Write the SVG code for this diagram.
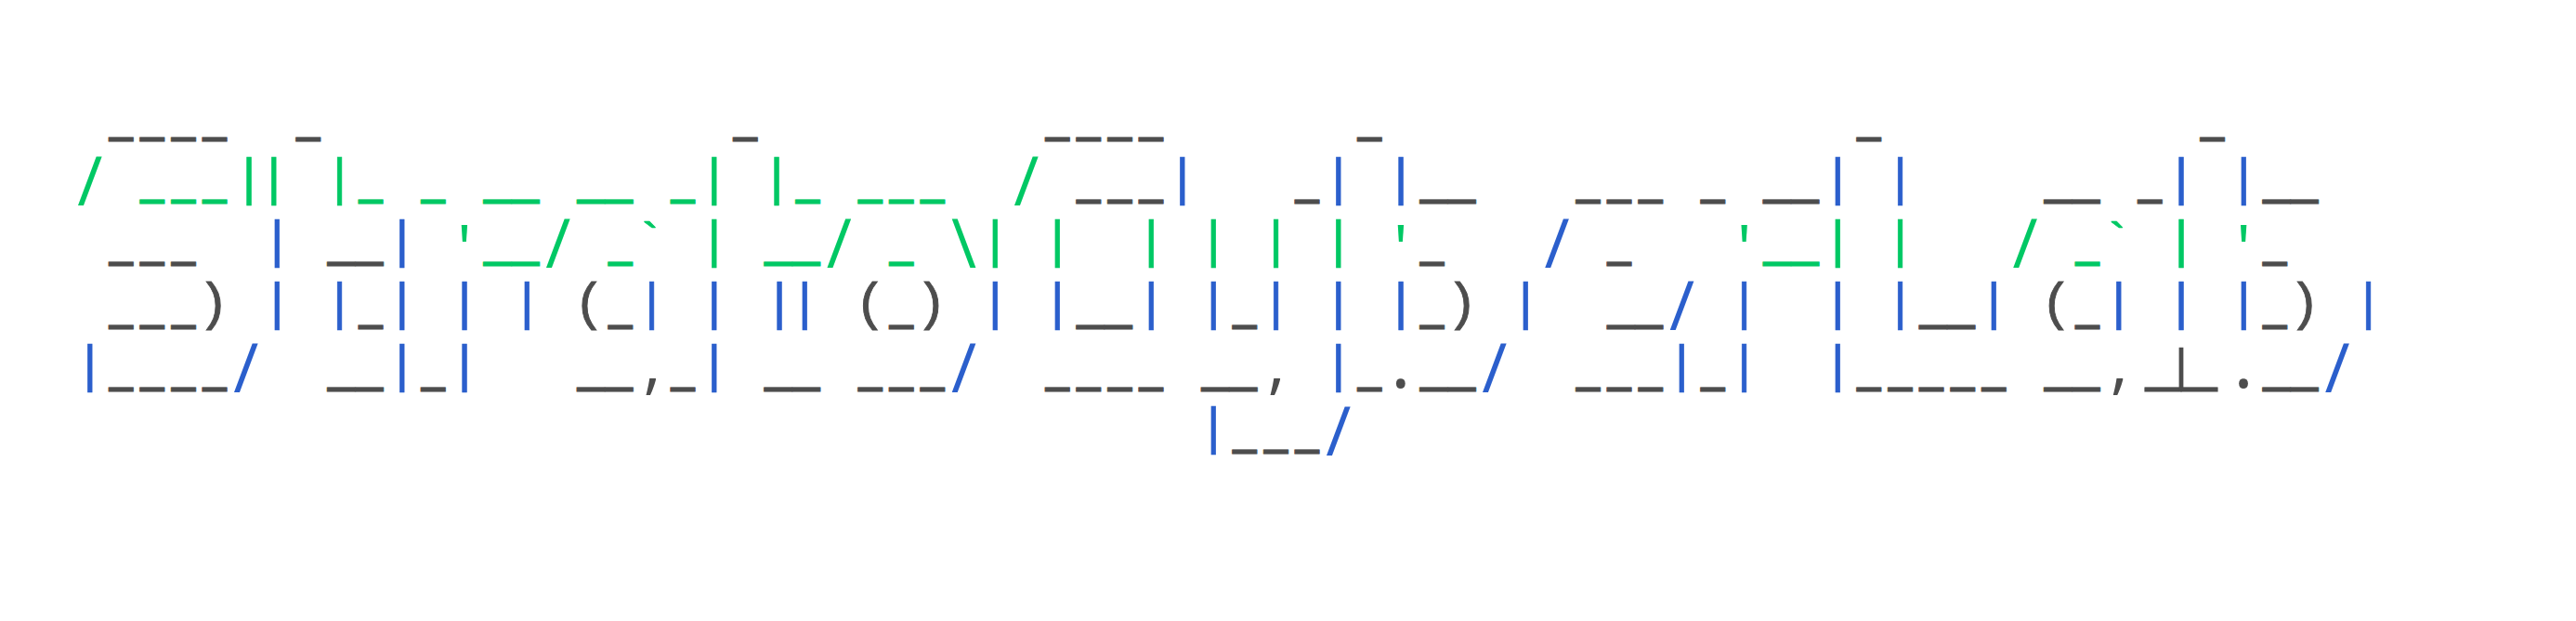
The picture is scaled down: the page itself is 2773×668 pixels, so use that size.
<svg xmlns="http://www.w3.org/2000/svg" width="2773" height="668" viewBox="0 0 2773 668">
<style>
text{font-family:"Liberation Mono",monospace;font-size:56px;stroke-width:0}
.k{fill:#4d4d4d;stroke:#4d4d4d}
.g{fill:#00c864;stroke:#00c864}
.l{fill:#2b5fcc;stroke:#2b5fcc}
.u{font-family:"DejaVu Sans Mono",monospace;font-weight:700;font-size:44px;stroke-width:.8px}
.b{font-family:"Liberation Mono",monospace;font-size:56px;stroke-width:.7px}
.p{stroke-width:.9px}
.a{stroke-width:.6px}
.s{font-family:"Open Sans",sans-serif;font-size:74px}
.q{font-size:58px}
.c{font-family:"Open Sans",sans-serif;font-size:74px}
.d{font-family:"Open Sans",sans-serif;font-size:84px}
.t{font-size:50px;stroke-width:.7px}
</style>
<g id="ascii-art">
<text id="row1" xml:space="preserve"> <tspan class="u k" y="141" x="117 150.6 184.2 217.8">____</tspan>  <tspan class="u k" y="141" x="318.6">_</tspan>             <tspan class="u k" y="141" x="789">_</tspan>         <tspan class="u k" y="141" x="1125 1158.6 1192.2 1225.8">____</tspan>      <tspan class="u k" y="141" x="1461">_</tspan>               <tspan class="u k" y="141" x="1998.6">_</tspan>          <tspan class="u k" y="141" x="2368.2">_</tspan></text>
<text id="row2" xml:space="preserve"><tspan class="s g" y="220.7" x="83.3">/</tspan> <tspan class="u g" y="208.2" x="150.6 184.2 217.8">___</tspan><tspan class="b g" y="208.6" x="251.2 278">||</tspan> <tspan class="b g" y="208.6" x="348.8">|</tspan><tspan class="u g" y="208.2" x="385.8">_</tspan> <tspan class="u g" y="208.2" x="453">_</tspan> <tspan class="u g" y="208.2" x="520.2" textLength="60.4" lengthAdjust="spacingAndGlyphs">__</tspan> <tspan class="u g" y="208.2" x="621" textLength="60.4" lengthAdjust="spacingAndGlyphs">__</tspan> <tspan class="u g" y="208.2" x="721.8">_</tspan><tspan class="b g" y="208.6" x="752">|</tspan> <tspan class="b g" y="208.6" x="819.2">|</tspan><tspan class="u g" y="208.2" x="856.2">_</tspan> <tspan class="u g" y="208.2" x="923.4 957 990.6">___</tspan>  <tspan class="s g" y="220.7" x="1091.3">/</tspan> <tspan class="u k" y="208.2" x="1158.6 1192.2 1225.8">___</tspan><tspan class="b l" y="208.6" x="1256">|</tspan>   <tspan class="u k" y="208.2" x="1393.8">_</tspan><tspan class="b l" y="208.6" x="1424">|</tspan> <tspan class="b l" y="208.6" x="1491.2">|</tspan><tspan class="u k" y="208.2" x="1528.2" textLength="60.4" lengthAdjust="spacingAndGlyphs">__</tspan>   <tspan class="u k" y="208.2" x="1696.2 1729.8 1763.4">___</tspan> <tspan class="u k" y="208.2" x="1830.6">_</tspan> <tspan class="u k" y="208.2" x="1897.8" textLength="60.4" lengthAdjust="spacingAndGlyphs">__</tspan><tspan class="b l" y="208.6" x="1961.6">|</tspan> <tspan class="b l" y="208.6" x="2028.8">|</tspan>    <tspan class="u k" y="208.2" x="2200.2" textLength="60.4" lengthAdjust="spacingAndGlyphs">__</tspan> <tspan class="u k" y="208.2" x="2301">_</tspan><tspan class="b l" y="208.6" x="2331.2">|</tspan> <tspan class="b l" y="208.6" x="2398.4">|</tspan><tspan class="u k" y="208.2" x="2435.4" textLength="60.4" lengthAdjust="spacingAndGlyphs">__</tspan></text>
<text id="row3" xml:space="preserve"> <tspan class="u k" y="275.4" x="117 150.6 184.2">___</tspan>  <tspan class="b l" y="275.8" x="281.6">|</tspan> <tspan class="u k" y="275.4" x="352.2" textLength="60.4" lengthAdjust="spacingAndGlyphs">__</tspan><tspan class="b l" y="275.8" x="416">|</tspan> <tspan class="q g" y="284.4" x="482.6">'</tspan><tspan class="u g" y="275.4" x="520.2" textLength="60.4" lengthAdjust="spacingAndGlyphs">__</tspan><tspan class="s g" y="287.9" x="587.3">/</tspan> <tspan class="u g" y="275.4" x="654.6">_</tspan><tspan class="b a g" y="278.2" x="682.8">`</tspan> <tspan class="b g" y="275.8" x="752">|</tspan> <tspan class="u g" y="275.4" x="822.6" textLength="60.4" lengthAdjust="spacingAndGlyphs">__</tspan><tspan class="s g" y="287.9" x="889.7">/</tspan> <tspan class="u g" y="275.4" x="957">_</tspan> <tspan class="s g" y="287.9" x="1024.1">\</tspan><tspan class="b g" y="275.8" x="1054.4">|</tspan> <tspan class="b g" y="275.8" x="1121.6">|</tspan>  <tspan class="b g" y="275.8" x="1222.4">|</tspan> <tspan class="b g" y="275.8" x="1289.6">|</tspan> <tspan class="b g" y="275.8" x="1356.8">|</tspan> <tspan class="b g" y="275.8" x="1424">|</tspan> <tspan class="q g" y="284.4" x="1490.6">'</tspan><tspan class="u k" y="275.4" x="1528.2">_</tspan>   <tspan class="s l" y="287.9" x="1662.5">/</tspan> <tspan class="u k" y="275.4" x="1729.8">_</tspan>   <tspan class="q g" y="284.4" x="1860.2">'</tspan><tspan class="u g" y="275.4" x="1897.8" textLength="60.4" lengthAdjust="spacingAndGlyphs">__</tspan><tspan class="b g" y="275.8" x="1961.6">|</tspan> <tspan class="b g" y="275.8" x="2028.8">|</tspan>   <tspan class="s g" y="287.9" x="2166.5">/</tspan> <tspan class="u g" y="275.4" x="2233.8">_</tspan><tspan class="b a g" y="278.2" x="2262">`</tspan> <tspan class="b g" y="275.8" x="2331.2">|</tspan> <tspan class="q g" y="284.4" x="2397.8">'</tspan><tspan class="u k" y="275.4" x="2435.4">_</tspan></text>
<text id="row4" xml:space="preserve"> <tspan class="u k" y="342.6" x="117 150.6 184.2">___</tspan><tspan class="b p k" y="343" x="212.9">)</tspan> <tspan class="b l" y="343" x="281.6">|</tspan> <tspan class="b l" y="343" x="348.8">|</tspan><tspan class="u k" y="342.6" x="385.8">_</tspan><tspan class="b l" y="343" x="416">|</tspan> <tspan class="b l" y="343" x="483.2">|</tspan> <tspan class="b l" y="343" x="550.4">|</tspan> <tspan class="b p k" y="343" x="617.6">(</tspan><tspan class="u k" y="342.6" x="654.6">_</tspan><tspan class="b l" y="343" x="684.8">|</tspan> <tspan class="b l" y="343" x="752">|</tspan> <tspan class="b l" y="343" x="822.3 849.5">||</tspan> <tspan class="b p k" y="343" x="920">(</tspan><tspan class="u k" y="342.6" x="957">_</tspan><tspan class="b p k" y="343" x="985.7">)</tspan> <tspan class="b l" y="343" x="1054.4">|</tspan> <tspan class="b l" y="343" x="1121.6">|</tspan><tspan class="u k" y="342.6" x="1158.6" textLength="60.4" lengthAdjust="spacingAndGlyphs">__</tspan><tspan class="b l" y="343" x="1222.4">|</tspan> <tspan class="b l" y="343" x="1289.6">|</tspan><tspan class="u k" y="342.6" x="1326.6">_</tspan><tspan class="b l" y="343" x="1356.8">|</tspan> <tspan class="b l" y="343" x="1424">|</tspan> <tspan class="b l" y="343" x="1491.2">|</tspan><tspan class="u k" y="342.6" x="1528.2">_</tspan><tspan class="b p k" y="343" x="1556.9">)</tspan> <tspan class="b l" y="343" x="1625.6">|</tspan>  <tspan class="u k" y="342.6" x="1729.8" textLength="60.4" lengthAdjust="spacingAndGlyphs">__</tspan><tspan class="s l" y="355.1" x="1796.9">/</tspan> <tspan class="b l" y="343" x="1860.8">|</tspan>  <tspan class="b l" y="343" x="1961.6">|</tspan> <tspan class="b l" y="343" x="2028.8">|</tspan><tspan class="u k" y="342.6" x="2065.8" textLength="60.4" lengthAdjust="spacingAndGlyphs">__</tspan><tspan class="b l" y="343" x="2129.6">|</tspan> <tspan class="b p k" y="343" x="2196.8">(</tspan><tspan class="u k" y="342.6" x="2233.8">_</tspan><tspan class="b l" y="343" x="2264">|</tspan> <tspan class="b l" y="343" x="2331.2">|</tspan> <tspan class="b l" y="343" x="2398.4">|</tspan><tspan class="u k" y="342.6" x="2435.4">_</tspan><tspan class="b p k" y="343" x="2464.1">)</tspan> <tspan class="b l" y="343" x="2532.8">|</tspan></text>
<text id="row5" xml:space="preserve"><tspan class="b l" y="410.2" x="80">|</tspan><tspan class="u k" y="409.8" x="117 150.6 184.2 217.8">____</tspan><tspan class="s l" y="422.3" x="251.3">/</tspan>  <tspan class="u k" y="409.8" x="352.2" textLength="60.4" lengthAdjust="spacingAndGlyphs">__</tspan><tspan class="b l" y="410.2" x="416">|</tspan><tspan class="u k" y="409.8" x="453">_</tspan><tspan class="b l" y="410.2" x="483.2">|</tspan>   <tspan class="u k" y="409.8" x="621" textLength="60.4" lengthAdjust="spacingAndGlyphs">__</tspan><tspan class="c k" y="416.1" x="692.6">,</tspan><tspan class="u k" y="409.8" x="721.8">_</tspan><tspan class="b l" y="410.2" x="752">|</tspan> <tspan class="u k" y="409.8" x="822.6" textLength="60.4" lengthAdjust="spacingAndGlyphs">__</tspan> <tspan class="u k" y="409.8" x="923.4 957 990.6">___</tspan><tspan class="s l" y="422.3" x="1024.1">/</tspan>  <tspan class="u k" y="409.8" x="1125 1158.6 1192.2 1225.8">____</tspan> <tspan class="u k" y="409.8" x="1293" textLength="60.4" lengthAdjust="spacingAndGlyphs">__</tspan><tspan class="c k" y="416.1" x="1364.6">,</tspan> <tspan class="b l" y="410.2" x="1424">|</tspan><tspan class="u k" y="409.8" x="1461">_</tspan><tspan class="d k" y="416.6" x="1496.8">.</tspan><tspan class="u k" y="409.8" x="1528.2" textLength="60.4" lengthAdjust="spacingAndGlyphs">__</tspan><tspan class="s l" y="422.3" x="1595.3">/</tspan>  <tspan class="u k" y="409.8" x="1696.2 1729.8 1763.4">___</tspan><tspan class="b l" y="410.2" x="1793.6">|</tspan><tspan class="u k" y="409.8" x="1830.6">_</tspan><tspan class="b l" y="410.2" x="1860.8">|</tspan>  <tspan class="b l" y="410.2" x="1961.6">|</tspan><tspan class="u k" y="409.8" x="1998.6 2032.2 2065.8 2099.4 2133">_____</tspan> <tspan class="u k" y="409.8" x="2200.2" textLength="60.4" lengthAdjust="spacingAndGlyphs">__</tspan><tspan class="c k" y="416.1" x="2271.8">,</tspan><tspan class="u k" y="409.8" x="2309" textLength="39" lengthAdjust="spacingAndGlyphs">_</tspan><tspan class="t k" y="410.25" x="2333">|</tspan><tspan class="u k" y="409.8" x="2348" textLength="39" lengthAdjust="spacingAndGlyphs">_</tspan><tspan class="d k" y="416.6" x="2404">.</tspan><tspan class="u k" y="409.8" x="2435.4" textLength="60.4" lengthAdjust="spacingAndGlyphs">__</tspan><tspan class="s l" y="422.3" x="2502.5">/</tspan></text>
<text id="row6" xml:space="preserve"><tspan class="b l" y="477.4" x="1289.6">|</tspan><tspan class="u k" y="477" x="1326.6 1360.2 1393.8">___</tspan><tspan class="s l" y="489.5" x="1427.3">/</tspan></text>
</g>
</svg>
